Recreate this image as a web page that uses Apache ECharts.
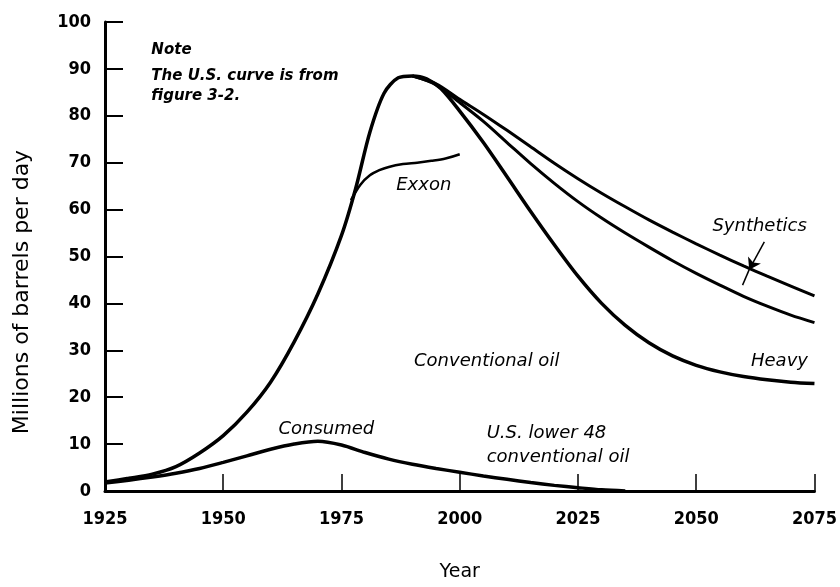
<!DOCTYPE html>
<html>
<head>
<meta charset="utf-8">
<script src="https://cdn.jsdelivr.net/npm/echarts@6/dist/echarts.min.js"></script>
<style>
  html, body { margin: 0; padding: 0; background: #fff; }
  #main { width: 840px; height: 587px; }
</style>
</head>
<body>
<div id="main"></div>
<script>
// world conventional oil (shared rising leg up to the 1990 peak)
const conventionalYears = [1925, 1930, 1935, 1940, 1945, 1950, 1955, 1960, 1965, 1970, 1975, 1978, 1981, 1984, 1987, 1990,
    1993, 1996, 2000, 2005, 2010, 2015, 2020, 2025, 2030, 2035, 2040, 2045, 2050, 2055, 2060, 2065, 2070, 2075];
const conventionalValues = [1.9, 2.7, 3.6, 5.2, 8.1, 11.8, 16.8, 23.2, 31.8, 42, 54.5, 64.5, 76.5, 84.8, 88.1, 88.5,
    87.9, 85.8, 81, 74.3, 67, 59.6, 52.5, 45.8, 40, 35.3, 31.6, 28.8, 26.8, 25.4, 24.4, 23.7, 23.2, 22.9];

// conventional + heavy
const heavyYears = [1990, 1995, 2000, 2005, 2010, 2015, 2020, 2025, 2030, 2035, 2040, 2045, 2050, 2055, 2060, 2065, 2070, 2075];
const heavyValues = [88.5, 86.6, 82.8, 78.8, 74.3, 69.8, 65.6, 61.7, 58.2, 55, 52, 49.1, 46.4, 43.9, 41.5, 39.4, 37.5, 35.9];

// conventional + heavy + synthetics
const synthYears = [1990, 1995, 2000, 2005, 2010, 2015, 2020, 2025, 2030, 2035, 2040, 2045, 2050, 2055, 2060, 2065, 2070, 2075];
const synthValues = [88.5, 86.8, 83.5, 80.3, 76.9, 73.4, 69.9, 66.6, 63.5, 60.6, 57.8, 55.2, 52.7, 50.3, 48, 45.8, 43.7, 41.6];

// Exxon forecast
const exxonYears = [1977, 1979, 1981, 1983, 1985, 1988, 1991, 1994, 1997, 2000];
const exxonValues = [62, 65.3, 67.3, 68.4, 69.1, 69.7, 70, 70.4, 70.9, 71.8];

// U.S. lower 48 conventional oil
const usYears = [1925, 1930, 1935, 1940, 1945, 1950, 1955, 1960, 1965, 1970, 1975, 1980, 1985, 1990, 1995, 2000,
    2005, 2010, 2015, 2020, 2025, 2030, 2035];
const usValues = [1.7, 2.3, 3.0, 3.8, 4.8, 6.1, 7.5, 8.9, 10.0, 10.6, 9.8, 8.2, 6.8, 5.7, 4.8, 4.0,
    3.2, 2.5, 1.8, 1.2, 0.7, 0.25, 0];

const yTicks = [0, 10, 20, 30, 40, 50, 60, 70, 80, 90, 100];
const xTicks = [1925, 1950, 1975, 2000, 2025, 2050, 2075];

function pairs(xs, ys) {
    return xs.map((x, i) => [x, ys[i]]);
}

const chart = echarts.init(document.getElementById('main'), null, { renderer: 'canvas' });

const tickFont = {
    fontFamily: 'DejaVu Sans Condensed',
    fontWeight: 'bold',
    fontSize: 18,
    color: '#000'
};

function line(name, data, width) {
    return {
        name: name,
        type: 'line',
        data: data,
        symbol: 'none',
        smooth: 0.3,
        lineStyle: { color: '#000', width: width },
        z: 3
    };
}

const option = {
    backgroundColor: '#fff',
    animation: false,
    grid: { left: 105, right: 23, top: 22, bottom: 82 },
    xAxis: {
        type: 'value',
        min: xTicks[0],
        max: xTicks[xTicks.length - 1],
        interval: 25,
        name: 'Year',
        nameLocation: 'middle',
        nameGap: 72,
        nameTextStyle: { fontFamily: 'DejaVu Sans', fontSize: 19, color: '#000' },
        axisLine: { lineStyle: { color: '#000', width: 3 } },
        axisTick: { inside: true, length: 17, lineStyle: { color: '#000', width: 1.5 } },
        axisLabel: Object.assign({ margin: 19, formatter: v => String(v) }, tickFont),
        splitLine: { show: false }
    },
    yAxis: {
        type: 'value',
        min: yTicks[0],
        max: yTicks[yTicks.length - 1],
        interval: 10,
        axisLine: { show: true, lineStyle: { color: '#000', width: 3 } },
        axisTick: { show: true, inside: true, length: 18, lineStyle: { color: '#000', width: 2 } },
        axisLabel: Object.assign({ margin: 14 }, tickFont),
        splitLine: { show: false }
    },
    series: [
        line('Conventional oil', pairs(conventionalYears, conventionalValues), 3.5),
        line('Heavy', pairs(heavyYears, heavyValues), 3),
        Object.assign(line('Synthetics', pairs(synthYears, synthValues), 3), {
            markLine: {
                silent: true,
                label: { show: false },
                lineStyle: { color: '#000', width: 1.5, type: 'solid' },
                data: [
                    [{ coord: [2064.4, 53.1], symbol: 'none' }, { coord: [2061.2, 47.2], symbol: 'arrow', symbolSize: 11 }],
                    [{ coord: [2061.2, 47.2], symbol: 'none' }, { coord: [2059.8, 43.9], symbol: 'none' }]
                ]
            }
        }),
        line('Exxon', pairs(exxonYears, exxonValues), 2.5),
        line('U.S. lower 48 conventional oil', pairs(usYears, usValues), 3.5)
    ]
};

chart.setOption(option);

// text annotations, anchored in data space
const curveFont = { fontFamily: 'DejaVu Sans', fontStyle: 'italic', fontSize: 18, fill: '#000' };
const annotations = [
    { text: 'Exxon', at: [1992.4, 65.2], align: 'center' },
    { text: 'Synthetics', at: [2063.4, 56.5], align: 'center' },
    { text: 'Heavy', at: [2067.6, 27.6], align: 'center' },
    { text: 'Conventional oil', at: [2005.7, 27.6], align: 'center' },
    { text: 'Consumed', at: [1971.8, 13.2], align: 'center' },
    { text: 'U.S. lower 48', at: [2005.7, 12.3], align: 'left' },
    { text: 'conventional oil', at: [2005.7, 7.1], align: 'left' }
];
const noteLines = [
    { text: 'Note', at: [1934.8, 94.0] },
    { text: 'The U.S. curve is from', at: [1934.8, 88.5] },
    { text: 'figure 3-2.', at: [1934.8, 84.3] }
];

const graphics = [];
annotations.forEach(a => {
    const p = chart.convertToPixel({ gridIndex: 0 }, a.at);
    graphics.push({
        type: 'text', x: p[0], y: p[1], z: 10,
        style: Object.assign({ text: a.text, align: a.align, verticalAlign: 'middle' }, curveFont)
    });
});
noteLines.forEach(a => {
    const p = chart.convertToPixel({ gridIndex: 0 }, a.at);
    graphics.push({
        type: 'text', x: p[0], y: p[1], z: 10,
        style: {
            text: a.text, align: 'left', verticalAlign: 'middle',
            fontFamily: 'DejaVu Sans', fontStyle: 'italic', fontWeight: 'bold', fontSize: 15, fill: '#000'
        }
    });
});
// y axis title
graphics.push({
    type: 'text', x: 22, y: 292, rotation: Math.PI / 2, z: 10,
    style: {
        text: 'Millions of barrels per day', align: 'center', verticalAlign: 'middle',
        fontFamily: 'DejaVu Sans', fontSize: 22, fill: '#000'
    }
});

chart.setOption({ graphic: graphics });
</script>
</body>
</html>
